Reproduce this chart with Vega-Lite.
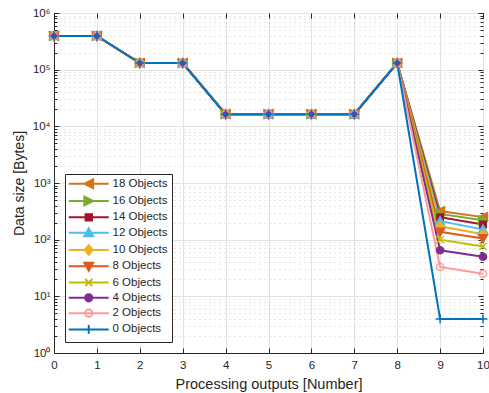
{
  "$schema": "https://vega.github.io/schema/vega-lite/v6.json",
  "width": 429,
  "height": 340,
  "autosize": {"type": "none"},
  "padding": {"left": 54, "top": 13, "right": 6, "bottom": 40},
  "background": "white",
  "config": {
    "font": "Liberation Sans",
    "view": {"stroke": "#262626", "strokeWidth": 1}
  },
  "data": {
    "values": [
      {"x": 0, "obj": "18 Objects", "v": 393216}, {"x": 1, "obj": "18 Objects", "v": 393216}, {"x": 2, "obj": "18 Objects", "v": 131072}, {"x": 3, "obj": "18 Objects", "v": 131072}, {"x": 4, "obj": "18 Objects", "v": 16384}, {"x": 5, "obj": "18 Objects", "v": 16384}, {"x": 6, "obj": "18 Objects", "v": 16384}, {"x": 7, "obj": "18 Objects", "v": 16384}, {"x": 8, "obj": "18 Objects", "v": 131072}, {"x": 9, "obj": "18 Objects", "v": 320}, {"x": 10, "obj": "18 Objects", "v": 250},
      {"x": 0, "obj": "16 Objects", "v": 393216}, {"x": 1, "obj": "16 Objects", "v": 393216}, {"x": 2, "obj": "16 Objects", "v": 131072}, {"x": 3, "obj": "16 Objects", "v": 131072}, {"x": 4, "obj": "16 Objects", "v": 16384}, {"x": 5, "obj": "16 Objects", "v": 16384}, {"x": 6, "obj": "16 Objects", "v": 16384}, {"x": 7, "obj": "16 Objects", "v": 16384}, {"x": 8, "obj": "16 Objects", "v": 131072}, {"x": 9, "obj": "16 Objects", "v": 285}, {"x": 10, "obj": "16 Objects", "v": 220},
      {"x": 0, "obj": "14 Objects", "v": 393216}, {"x": 1, "obj": "14 Objects", "v": 393216}, {"x": 2, "obj": "14 Objects", "v": 131072}, {"x": 3, "obj": "14 Objects", "v": 131072}, {"x": 4, "obj": "14 Objects", "v": 16384}, {"x": 5, "obj": "14 Objects", "v": 16384}, {"x": 6, "obj": "14 Objects", "v": 16384}, {"x": 7, "obj": "14 Objects", "v": 16384}, {"x": 8, "obj": "14 Objects", "v": 131072}, {"x": 9, "obj": "14 Objects", "v": 250}, {"x": 10, "obj": "14 Objects", "v": 185},
      {"x": 0, "obj": "12 Objects", "v": 393216}, {"x": 1, "obj": "12 Objects", "v": 393216}, {"x": 2, "obj": "12 Objects", "v": 131072}, {"x": 3, "obj": "12 Objects", "v": 131072}, {"x": 4, "obj": "12 Objects", "v": 16384}, {"x": 5, "obj": "12 Objects", "v": 16384}, {"x": 6, "obj": "12 Objects", "v": 16384}, {"x": 7, "obj": "12 Objects", "v": 16384}, {"x": 8, "obj": "12 Objects", "v": 131072}, {"x": 9, "obj": "12 Objects", "v": 212}, {"x": 10, "obj": "12 Objects", "v": 152},
      {"x": 0, "obj": "10 Objects", "v": 393216}, {"x": 1, "obj": "10 Objects", "v": 393216}, {"x": 2, "obj": "10 Objects", "v": 131072}, {"x": 3, "obj": "10 Objects", "v": 131072}, {"x": 4, "obj": "10 Objects", "v": 16384}, {"x": 5, "obj": "10 Objects", "v": 16384}, {"x": 6, "obj": "10 Objects", "v": 16384}, {"x": 7, "obj": "10 Objects", "v": 16384}, {"x": 8, "obj": "10 Objects", "v": 131072}, {"x": 9, "obj": "10 Objects", "v": 172}, {"x": 10, "obj": "10 Objects", "v": 125},
      {"x": 0, "obj": "8 Objects", "v": 393216}, {"x": 1, "obj": "8 Objects", "v": 393216}, {"x": 2, "obj": "8 Objects", "v": 131072}, {"x": 3, "obj": "8 Objects", "v": 131072}, {"x": 4, "obj": "8 Objects", "v": 16384}, {"x": 5, "obj": "8 Objects", "v": 16384}, {"x": 6, "obj": "8 Objects", "v": 16384}, {"x": 7, "obj": "8 Objects", "v": 16384}, {"x": 8, "obj": "8 Objects", "v": 131072}, {"x": 9, "obj": "8 Objects", "v": 138}, {"x": 10, "obj": "8 Objects", "v": 105},
      {"x": 0, "obj": "6 Objects", "v": 393216}, {"x": 1, "obj": "6 Objects", "v": 393216}, {"x": 2, "obj": "6 Objects", "v": 131072}, {"x": 3, "obj": "6 Objects", "v": 131072}, {"x": 4, "obj": "6 Objects", "v": 16384}, {"x": 5, "obj": "6 Objects", "v": 16384}, {"x": 6, "obj": "6 Objects", "v": 16384}, {"x": 7, "obj": "6 Objects", "v": 16384}, {"x": 8, "obj": "6 Objects", "v": 131072}, {"x": 9, "obj": "6 Objects", "v": 100}, {"x": 10, "obj": "6 Objects", "v": 76},
      {"x": 0, "obj": "4 Objects", "v": 393216}, {"x": 1, "obj": "4 Objects", "v": 393216}, {"x": 2, "obj": "4 Objects", "v": 131072}, {"x": 3, "obj": "4 Objects", "v": 131072}, {"x": 4, "obj": "4 Objects", "v": 16384}, {"x": 5, "obj": "4 Objects", "v": 16384}, {"x": 6, "obj": "4 Objects", "v": 16384}, {"x": 7, "obj": "4 Objects", "v": 16384}, {"x": 8, "obj": "4 Objects", "v": 131072}, {"x": 9, "obj": "4 Objects", "v": 65}, {"x": 10, "obj": "4 Objects", "v": 50},
      {"x": 0, "obj": "2 Objects", "v": 393216}, {"x": 1, "obj": "2 Objects", "v": 393216}, {"x": 2, "obj": "2 Objects", "v": 131072}, {"x": 3, "obj": "2 Objects", "v": 131072}, {"x": 4, "obj": "2 Objects", "v": 16384}, {"x": 5, "obj": "2 Objects", "v": 16384}, {"x": 6, "obj": "2 Objects", "v": 16384}, {"x": 7, "obj": "2 Objects", "v": 16384}, {"x": 8, "obj": "2 Objects", "v": 131072}, {"x": 9, "obj": "2 Objects", "v": 33}, {"x": 10, "obj": "2 Objects", "v": 25},
      {"x": 0, "obj": "0 Objects", "v": 393216}, {"x": 1, "obj": "0 Objects", "v": 393216}, {"x": 2, "obj": "0 Objects", "v": 131072}, {"x": 3, "obj": "0 Objects", "v": 131072}, {"x": 4, "obj": "0 Objects", "v": 16384}, {"x": 5, "obj": "0 Objects", "v": 16384}, {"x": 6, "obj": "0 Objects", "v": 16384}, {"x": 7, "obj": "0 Objects", "v": 16384}, {"x": 8, "obj": "0 Objects", "v": 131072}, {"x": 9, "obj": "0 Objects", "v": 4}, {"x": 10, "obj": "0 Objects", "v": 4}
    ]
  },
  "layer": [
    {
      "mark": {"type": "line", "strokeWidth": 2, "clip": false},
      "encoding": {
        "x": {"field": "x", "type": "quantitative", "scale": {"domain": [0, 10], "nice": false, "zero": false},
          "axis": {"orient": "bottom", "title": "Processing outputs [Number]", "values": [0,1,2,3,4,5,6,7,8,9,10], "format": "d",
            "grid": true, "gridColor": "#e2e2e2", "domainColor": "#262626", "tickColor": "#262626", "tickSize": -5,
            "labelPadding": 11, "labelFontSize": 11.5, "labelColor": "#262626", "labelFlush": false, "labelOverlap": false,
            "titleFontSize": 14.5, "titleFontWeight": "normal", "titleColor": "#262626", "titlePadding": 7}},
        "y": {"field": "v", "type": "quantitative", "scale": {"type": "log", "domain": [1, 1000000], "nice": false},
          "axis": {"orient": "left", "title": "Data size [Bytes]",
            "values": [1,2,3,4,5,6,7,8,9,10,20,30,40,50,60,70,80,90,100,200,300,400,500,600,700,800,900,1000,2000,3000,4000,5000,6000,7000,8000,9000,10000,20000,30000,40000,50000,60000,70000,80000,90000,100000,200000,300000,400000,500000,600000,700000,800000,900000,1000000],
            "labelExpr": "indexof([1,10,100,1000,10000,100000,1000000], datum.value) >= 0 ? '10' + ['⁰','¹','²','³','⁴','⁵','⁶'][indexof([1,10,100,1000,10000,100000,1000000], datum.value)] : ''",
            "grid": true,
            "gridColor": {"condition": {"test": "indexof([1,10,100,1000,10000,100000,1000000], datum.value) < 0", "value": "#cccccc"}, "value": "#e2e2e2"},
            "gridDash": {"condition": {"test": "indexof([1,10,100,1000,10000,100000,1000000], datum.value) < 0", "value": [1, 4]}, "value": []},
            "tickSize": {"condition": {"test": "indexof([1,10,100,1000,10000,100000,1000000], datum.value) < 0", "value": -3}, "value": -5},
            "domainColor": "#262626", "tickColor": "#262626",
            "labelPadding": 9, "labelFontSize": 11.5, "labelColor": "#262626", "labelOverlap": false, "labelFlush": false,
            "titleFontSize": 14, "titleFontWeight": "normal", "titleColor": "#262626", "titlePadding": 6}},
        "color": {"field": "obj", "type": "nominal",
          "scale": {"domain": ["18 Objects","16 Objects","14 Objects","12 Objects","10 Objects","8 Objects","6 Objects","4 Objects","2 Objects","0 Objects"],
            "range": ["#D4731C","#77AC30","#A2142F","#4DBEEE","#EDB120","#DB5A1F","#BFBF00","#7E2F8E","#FF9999","#0072BD"]},
          "legend": {"title": null, "orient": "bottom-left", "offset": 11, "fillColor": "white", "strokeColor": "#262626",
            "padding": 4, "symbolSize": 64, "symbolOffset": 14, "labelOffset": 18, "labelFontSize": 11.5, "labelColor": "#262626",
            "rowPadding": -0.7, "symbolStrokeWidth": 2,
            "encode": {"symbols": {"update": {
              "shape": {"signal": "['M-5,0L5,0M1.1,-1.1L-1.1,0L1.1,1.1Z','M-5,0L5,0M-1.1,-1.1L1.1,0L-1.1,1.1Z','M-5,0L5,0M-0.8,-0.8L0.8,-0.8L0.8,0.8L-0.8,0.8Z','M-5,0L5,0M-1.1,0.9L0,-1.1L1.1,0.9Z','M-5,0L5,0M0,-1.2L1,0L0,1.2L-1,0Z','M-5,0L5,0M-1.1,-0.9L0,1.1L1.1,-0.9Z','M-5,0L5,0M-0.9,-0.9L0.9,0.9M0.9,-0.9L-0.9,0.9','M-5,0L5,0M-0.9,0A0.9,0.9,0,1,0,0.9,0A0.9,0.9,0,1,0,-0.9,0Z','M-5,0L5,0M-0.9,0A0.9,0.9,0,1,0,0.9,0A0.9,0.9,0,1,0,-0.9,0Z','M-5,0L5,0M0,-1.1L0,1.1'][indexof(['18 Objects','16 Objects','14 Objects','12 Objects','10 Objects','8 Objects','6 Objects','4 Objects','2 Objects','0 Objects'], datum.value)]"},
              "fill": {"signal": "indexof(['6 Objects','2 Objects','0 Objects'], datum.value) >= 0 ? 'transparent' : scale('color', datum.value)"},
              "stroke": {"signal": "scale('color', datum.value)"},
              "strokeWidth": {"value": 2},
              "opacity": {"value": 1}
            }}}}}
      }
    },
    {
      "mark": {"type": "point", "filled": false, "size": 64, "strokeWidth": 1.5, "opacity": 1},
      "encoding": {
        "x": {"field": "x", "type": "quantitative", "axis": null},
        "y": {"field": "v", "type": "quantitative", "axis": null},
        "stroke": {"field": "obj", "type": "nominal", "legend": null,
          "scale": {"domain": ["0 Objects","2 Objects","4 Objects","6 Objects","8 Objects","10 Objects","12 Objects","14 Objects","16 Objects","18 Objects"],
            "range": ["#0072BD","#FF9999","#7E2F8E","#BFBF00","#DB5A1F","#EDB120","#4DBEEE","#A2142F","#77AC30","#D4731C"]}},
        "fill": {"field": "obj", "type": "nominal", "legend": null,
          "scale": {"domain": ["0 Objects","2 Objects","4 Objects","6 Objects","8 Objects","10 Objects","12 Objects","14 Objects","16 Objects","18 Objects"],
            "range": ["transparent","transparent","#7E2F8E","transparent","#DB5A1F","#EDB120","#4DBEEE","#A2142F","#77AC30","#D4731C"]}},
        "shape": {"field": "obj", "type": "nominal", "legend": null,
          "scale": {"domain": ["0 Objects","2 Objects","4 Objects","6 Objects","8 Objects","10 Objects","12 Objects","14 Objects","16 Objects","18 Objects"],
            "range": ["M-1.1,0L1.1,0M0,-1.1L0,1.1","M-0.9,0A0.9,0.9,0,1,0,0.9,0A0.9,0.9,0,1,0,-0.9,0Z","M-0.9,0A0.9,0.9,0,1,0,0.9,0A0.9,0.9,0,1,0,-0.9,0Z","M-0.9,-0.9L0.9,0.9M0.9,-0.9L-0.9,0.9","M-1.1,-0.9L0,1.1L1.1,-0.9Z","M0,-1.2L1,0L0,1.2L-1,0Z","M-1.1,0.9L0,-1.1L1.1,0.9Z","M-0.8,-0.8L0.8,-0.8L0.8,0.8L-0.8,0.8Z","M-1.1,-1.1L1.1,0L-1.1,1.1Z","M1.1,-1.1L-1.1,0L1.1,1.1Z"]}}
      }
    },
    {
      "mark": {"type": "point", "opacity": 0},
      "encoding": {
        "x": {"field": "x", "type": "quantitative",
          "axis": {"orient": "top", "title": null, "labels": false, "grid": false, "domain": false, "values": [0,1,2,3,4,5,6,7,8,9,10], "tickColor": "#262626", "tickSize": -5}},
        "y": {"field": "v", "type": "quantitative",
          "axis": {"orient": "right", "title": null, "labels": false, "grid": false, "domain": false, "tickColor": "#262626",
            "values": [1,2,3,4,5,6,7,8,9,10,20,30,40,50,60,70,80,90,100,200,300,400,500,600,700,800,900,1000,2000,3000,4000,5000,6000,7000,8000,9000,10000,20000,30000,40000,50000,60000,70000,80000,90000,100000,200000,300000,400000,500000,600000,700000,800000,900000,1000000],
            "tickSize": {"condition": {"test": "indexof([1,10,100,1000,10000,100000,1000000], datum.value) < 0", "value": -3}, "value": -5}}}
      }
    }
  ],
  "resolve": {"axis": {"x": "independent", "y": "independent"}}
}
